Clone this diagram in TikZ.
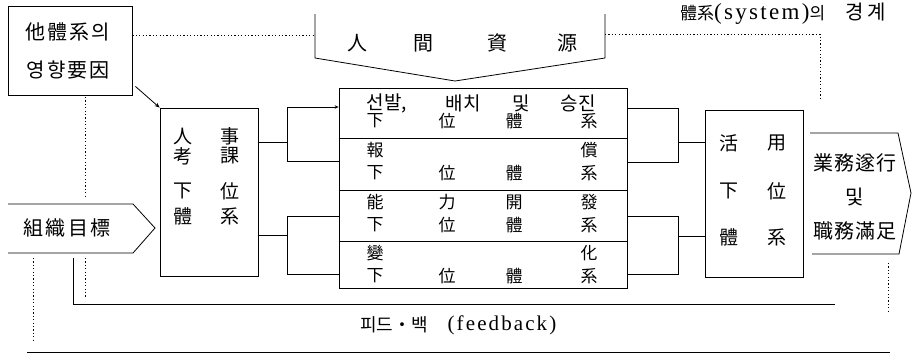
\documentclass[tikz,border=0pt]{standalone}
\usepackage{fontspec}
\newfontfamily\cjk{Noto Sans CJK KR}
\newfontfamily\latsp[LetterSpace=10]{Liberation Serif}
\usetikzlibrary{arrows.meta}
\begin{document}
\begin{tikzpicture}[x=1pt,y=-1pt,
  ln/.style={line width=0.8pt},
  box/.style={draw,line width=0.8pt,inner sep=0pt},
  bnd/.style={line width=0.8pt,dash pattern=on 1.2pt off 2.2pt},
  tx/.style={inner sep=0pt,font=\cjk\fontsize{#1}{#1}\selectfont},
]
\useasboundingbox (0,0) rectangle (912,354);
\fill[white] (0,0) rectangle (912,354);

% ---- boxes
\node[box,minimum width=124pt,minimum height=89pt] (other) at (70,50.5) {};
\node[box,minimum width=98pt,minimum height=168pt] (jinsa) at (209,192) {};
\node[box,minimum width=288pt,minimum height=200pt] (stack) at (483,188) {};
\node[box,minimum width=98pt,minimum height=167pt] (hwal) at (754,193.5) {};

% ---- texts
\node[tx=20,align=center,font=\cjk\fontsize{20}{38}\selectfont\addfontfeatures{LetterSpace=10}] (otxt) at (68,51) {他體系의\\영향要因};
\node[tx=20,font=\cjk\fontsize{20}{20}\selectfont\addfontfeatures{LetterSpace=12}] (goal) at (67,228) {組織目標};
\node[tx=20,align=center,font=\cjk\fontsize{20}{34}\selectfont\addfontfeatures{LetterSpace=6}] (perf) at (855,197) {業務遂行\\및\\職務滿足};

\foreach \c/\x [count=\i] in {人/357,間/423,資/497,源/567}
  \node[tx=20] (hr\i) at (\x,43) {\c};

\foreach \c/\x/\y [count=\i] in {人/183/136,事/230/136,考/183/156,課/230/156,
  下/183/191,位/230/191,體/183/216,系/230/216}
  \node[tx=19] (jt\i) at (\x,\y) {\c};

\foreach \c/\x/\y [count=\i] in {活/729/143,用/777/143,下/729/191,位/777/191,
  體/729/237,系/777/237}
  \node[tx=19] (ht\i) at (\x,\y) {\c};

% stack rows
\node[tx=19] (ra1) at (387,103) {선발,};
\node[tx=19] (ra2) at (463,103) {배치};
\node[tx=19] (ra3) at (521,103) {및};
\node[tx=19] (ra4) at (578,103) {승진};
\foreach \c/\x/\y [count=\i] in {報/375/150,償/589/150,能/375/202,力/447/202,開/514/202,發/589/202,變/375/253,化/589/253}
  \node[tx=17] (rb\i) at (\x,\y) {\c};
\foreach \y [count=\j] in {121,173,225,276}
  \foreach \c/\x [count=\i] in {下/375,位/447,體/514,系/589}
    \node[tx=17] (rs\j\i) at (\x,\y) {\c};

% row separators
\foreach \y in {138,190,241}
  \draw[ln] (stack.west |- 0,\y) -- (stack.east |- 0,\y);

% ---- 人間資源 pentagon (pointing down)
\coordinate (hrL) at (315,14);
\coordinate (hrR) at (605,14);
\coordinate (hrT) at (455,81);
\draw[ln] (hrL) -- (315,58) -- (hrT) -- (605,58) -- (hrR);

% ---- 組織目標 arrow shape
\coordinate (gtip) at (155,228);
\draw[ln] (8,204) -- (133,204) -- (gtip) -- (133,253) -- (8,253);

% ---- 業務遂行 shape
\draw[ln] (810,133) -- (898,133) -- (911,193) -- (899,254) -- (812,254);

% ---- arrow from other box
\draw[ln,-{Stealth[length=5pt,width=4pt]}] (other.south east) ++(3,-9) -- (jinsa.north west);

% ---- left connectors
\coordinate (lb) at (287,0);
\draw[ln] (jinsa.east |- 0,142) -- (lb |- 0,142);
\draw[ln] (jinsa.east |- 0,235) -- (lb |- 0,235);
\draw[ln,-{Stealth[length=4pt,width=3.5pt]}] (lb |- 0,161) -- (lb |- 0,107) -- (stack.west |- 0,107);
\draw[ln] (lb |- 0,161) -- (stack.west |- 0,161);
\draw[ln] (stack.west |- 0,216) -- (lb |- 0,216) -- (lb |- 0,274) -- (stack.west |- 0,274);

% ---- right connectors
\coordinate (rb) at (678,0);
\draw[ln] (stack.east |- 0,108) -- (rb |- 0,108) -- (rb |- 0,162) -- (stack.east |- 0,162);
\draw[ln] (stack.east |- 0,216) -- (rb |- 0,216) -- (rb |- 0,274) -- (stack.east |- 0,274);
\draw[ln] (rb |- 0,142) -- (hwal.west |- 0,142);
\draw[ln] (rb |- 0,236) -- (hwal.west |- 0,236);

% ---- system boundary (dotted)
\draw[bnd] (other.east |- 0,35) -- (hrL |- 0,35);
\draw[bnd] (hrR |- 0,34) -- (820,34) -- (820,100);
\draw[bnd] (85,97) -- (85,198);
\draw[bnd] (85,258) -- (85,297);
\draw[bnd] (33,258) -- (33,340);
\draw[bnd] (888,263) -- (888,313);

% ---- feedback lines
\draw[ln] (73,258) -- (73,304) -- (835,304);
\draw[ln] (27,352) -- (890,352);

% ---- labels
\node[anchor=west,inner sep=0pt] (sysb) at (680,14)
  {{\cjk\fontsize{17}{17}\selectfont 體系}{\latsp\fontsize{23}{23}\selectfont(system)}{\cjk\fontsize{17}{17}\selectfont 의}\hspace{20pt}{\cjk\fontsize{20}{20}\selectfont\addfontfeatures{LetterSpace=20}경계}};
\node[tx=18] (fbk) at (394,325) {피드・백};
\node[inner sep=0pt,font=\latsp\fontsize{21}{21}\selectfont] (fbl) at (502,325) {(feedback)};
\end{tikzpicture}
\end{document}
